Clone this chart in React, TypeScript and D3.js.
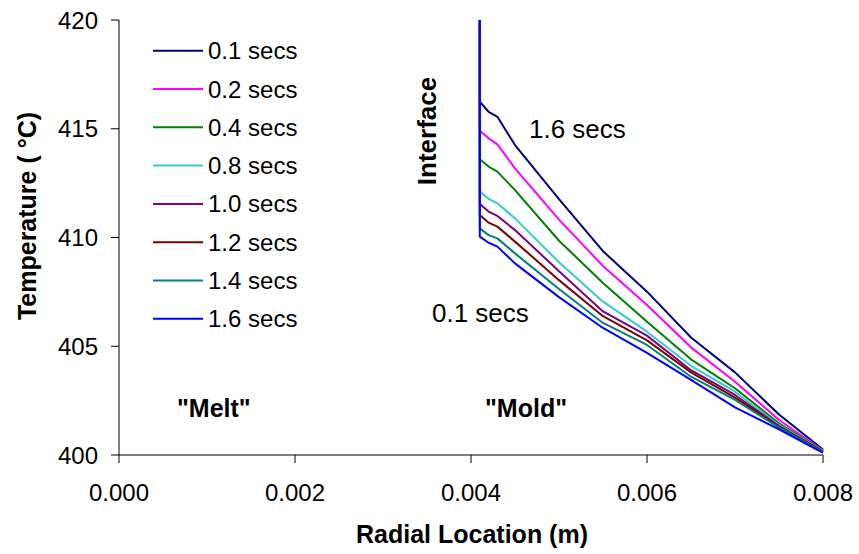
import React from "react";
import * as d3 from "d3";

const radialLocations = [0.0041, 0.0041, 0.0042, 0.0043, 0.0045, 0.005, 0.0055, 0.006, 0.0065, 0.007, 0.0075, 0.008];

const seriesNames = ["0.1 secs", "0.2 secs", "0.4 secs", "0.8 secs", "1.0 secs", "1.2 secs", "1.4 secs", "1.6 secs"];

const temps01 = [420, 416.24, 415.78, 415.55, 414.25, 411.76, 409.37, 407.51, 405.4, 403.8, 401.86, 400.25];
const temps02 = [420, 414.91, 414.56, 414.28, 413.18, 410.82, 408.69, 406.9, 404.95, 403.37, 401.61, 400.22];
const temps04 = [420, 413.6, 413.26, 413.03, 412.18, 409.85, 407.91, 406.13, 404.4, 403.07, 401.46, 400.2];
const temps08 = [420, 412.11, 411.78, 411.57, 410.88, 408.86, 407.05, 405.67, 404.1, 402.91, 401.38, 400.18];
const temps10 = [420, 411.54, 411.19, 410.99, 410.34, 408.45, 406.6, 405.49, 403.9, 402.76, 401.33, 400.16];
const temps12 = [420, 411.03, 410.68, 410.5, 409.81, 408.04, 406.38, 405.27, 403.8, 402.64, 401.3, 400.15];
const temps14 = [420, 410.42, 410.11, 409.96, 409.27, 407.63, 406.07, 405.06, 403.6, 402.53, 401.26, 400.13];
const temps16 = [420, 410.04, 409.76, 409.58, 408.81, 407.26, 405.84, 404.7, 403.45, 402.19, 401.18, 400.1];

const seriesTemps = [temps01, temps02, temps04, temps08, temps10, temps12, temps14, temps16];
const seriesColors = ["#000080", "#FF00FF", "#008000", "#33CCCC", "#800080", "#800000", "#008080", "#0000FF"];

const xTicks = [0, 0.002, 0.004, 0.006, 0.008];
const yTicks = [400, 405, 410, 415, 420];

const W = 859;
const H = 554;
const M = { left: 119, right: 823, top: 20, bottom: 455 };
const FONT = "'Liberation Sans', Arial, Helvetica, sans-serif";

export default function App() {
  const x = d3.scaleLinear().domain([0, 0.008]).range([M.left, M.right]);
  const y = d3.scaleLinear().domain([400, 420]).range([M.bottom, M.top]);
  const line = d3
    .line<[number, number]>()
    .x((d) => x(d[0]))
    .y((d) => y(d[1]));

  return (
    <svg
      width={W}
      height={H}
      viewBox={`0 0 ${W} ${H}`}
      style={{ position: "absolute", left: 0, top: 0, background: "#fff" }}
      fontFamily={FONT}
    >
      <rect x={0} y={0} width={W} height={H} fill="#fff" />
      {/* curves */}
      <g fill="none" strokeWidth={2} strokeLinejoin="round">
        {seriesTemps.map((temps, i) => (
          <path
            key={i}
            d={line(radialLocations.map((r, j) => [r, temps[j]] as [number, number])) || ""}
            stroke={seriesColors[i]}
          />
        ))}
      </g>
      {/* axes */}
      <g stroke="#000" strokeWidth={1}>
        <line x1={M.left} x2={M.left} y1={M.top} y2={M.bottom} />
        <line x1={M.left} x2={M.right} y1={M.bottom} y2={M.bottom} />
        {yTicks.map((t) => (
          <line key={t} x1={M.left - 8} x2={M.left} y1={y(t)} y2={y(t)} />
        ))}
        {xTicks.map((t) => (
          <line key={t} x1={x(t)} x2={x(t)} y1={M.bottom} y2={M.bottom + 8} />
        ))}
      </g>
      <g fontSize={24} fill="#000">
        {yTicks.map((t) => (
          <text key={t} x={M.left - 21} y={y(t)} textAnchor="end" dominantBaseline="central">
            {d3.format("d")(t)}
          </text>
        ))}
        {xTicks.map((t) => (
          <text key={t} x={x(t)} y={M.bottom + 46} textAnchor="middle">
            {d3.format(".3f")(t)}
          </text>
        ))}
      </g>
      {/* axis titles */}
      <text x={472} y={543} textAnchor="middle" fontSize={25} fontWeight="bold">
        Radial Location (m)
      </text>
      <text
        transform="translate(36,216) rotate(-90)"
        textAnchor="middle"
        fontSize={25}
        fontWeight="bold"
      >
        Temperature ( °C)
      </text>
      {/* legend */}
      <g>
        {seriesNames.map((name, i) => {
          const cy = 50.7 + i * 38.3;
          return (
            <g key={name}>
              <line x1={153} x2={203} y1={cy} y2={cy} stroke={seriesColors[i]} strokeWidth={2} />
              <text x={208} y={cy} fontSize={24} dominantBaseline="central">
                {name}
              </text>
            </g>
          );
        })}
      </g>
      {/* annotations */}
      <text x={529} y={138} fontSize={26}>1.6 secs</text>
      <text x={432} y={322} fontSize={26}>0.1 secs</text>
      <text transform="translate(436,131) rotate(-90)" textAnchor="middle" fontSize={26} fontWeight="bold">
        Interface
      </text>
      <text x={177} y={417} fontSize={25} fontWeight="bold">"Melt"</text>
      <text x={485} y={417} fontSize={25} fontWeight="bold">"Mold"</text>
    </svg>
  );
}
